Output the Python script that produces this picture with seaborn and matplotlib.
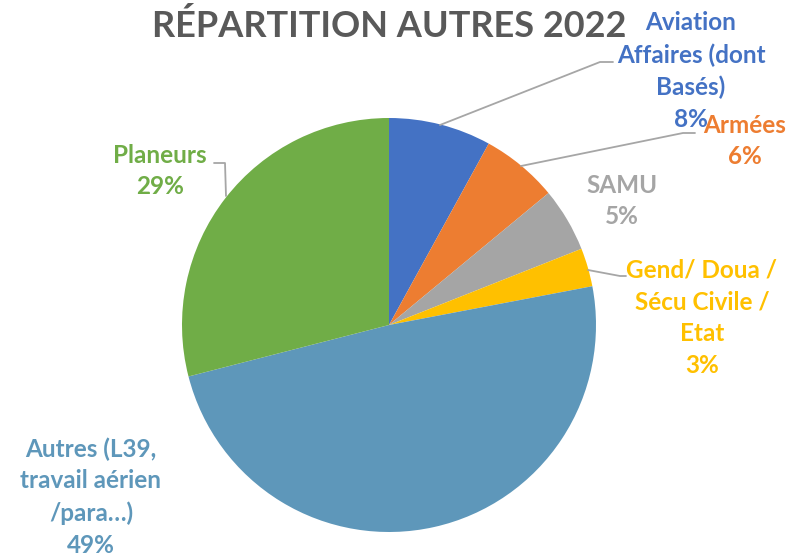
import matplotlib
matplotlib.use("Agg")
import matplotlib.pyplot as plt
import seaborn as sns

sns.set_theme(style="white")
plt.rcParams['font.family'] = ['Lato', 'DejaVu Sans']

# data
categories = ["Aviation\nAffaires (dont\nBasés)", "Armées", "SAMU",
              "Gend/ Doua /\nSécu Civile /\nEtat", "Autres (L39,\ntravail aérien\n/para…)", "Planeurs"]
shares = [8, 6, 5, 3, 49, 29]
colors = ["#4472C4", "#ED7D31", "#A5A5A5", "#FFC000", "#5E97BA", "#70AD47"]

W, H = 789, 556
fig = plt.figure(figsize=(W / 100, H / 100), dpi=100)
ax = fig.add_axes([0, 0, 1, 1])
ax.set_xlim(0, W)
ax.set_ylim(H, 0)
ax.set_aspect("equal")
ax.axis("off")

cx, cy, r = 389, 325, 207
ax.pie(shares, colors=colors, startangle=90, counterclock=False,
       center=(cx, -cy), radius=r, wedgeprops=dict(linewidth=0))
# pie draws with y up; flip it into the pixel-style axes
for p in ax.patches:
    p.set_transform(matplotlib.transforms.Affine2D().scale(1, -1) + ax.transData)
ax.set_xlim(0, W)
ax.set_ylim(H, 0)

# label positions (text block centres) in pixels
label_xy = [(691, 71), (745, 141), (622, 201), (702, 318), (91, 497), (160, 171)]
for cat, s, c, (x, y) in zip(categories, shares, colors, label_xy):
    ax.text(x, y, f"{cat}\n{s}%", color=c, fontsize=17.5, fontweight="bold",
            ha="center", va="center", linespacing=1.46)

# leader lines
lines = [
    [(440, 125), (600, 62), (613, 62)],
    [(521, 166), (683, 133), (695, 133)],
    [(588, 270), (620, 276), (626, 276)],
    [(226, 196), (225, 163), (214, 163)],
]
for pts in lines:
    xs, ys = zip(*pts)
    ax.plot(xs, ys, color="#A6A6A6", linewidth=1.3)

ax.text(389, 26, "RÉPARTITION AUTRES 2022", color="#595959", fontsize=26,
        fontweight="bold", ha="center", va="center")

fig.savefig("out.png", dpi=100)
